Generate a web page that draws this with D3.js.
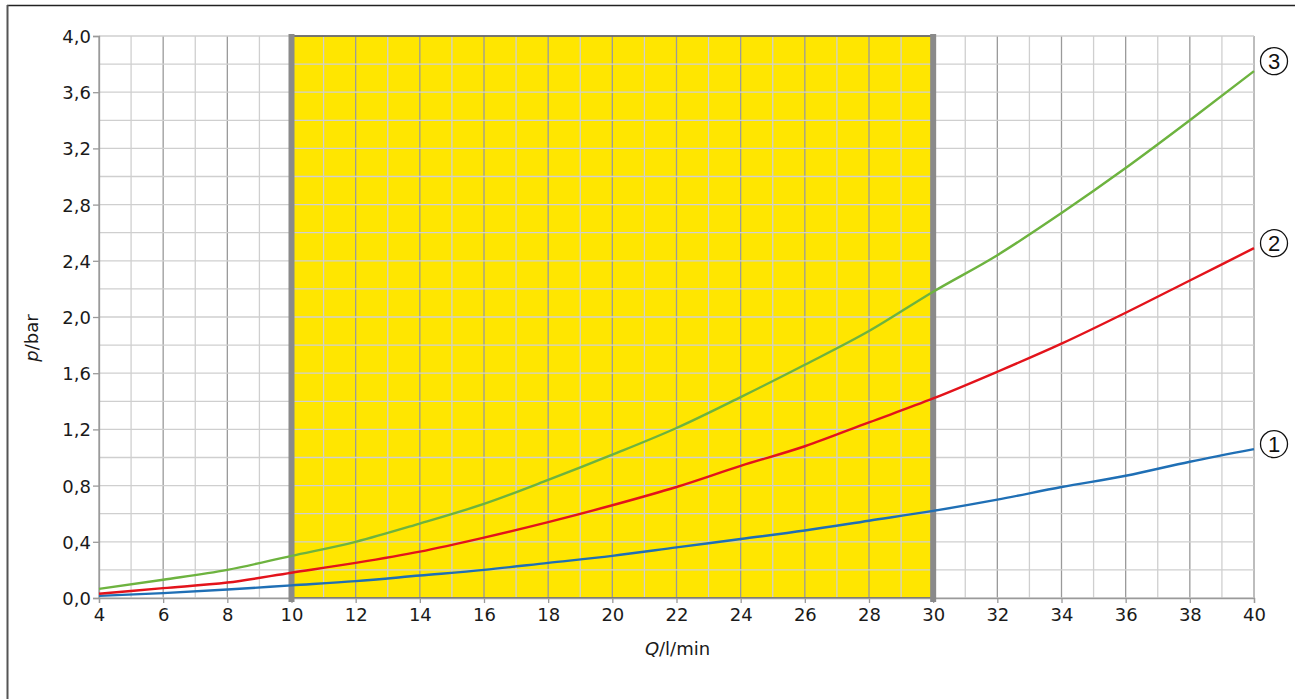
<!DOCTYPE html>
<html>
<head>
<meta charset="utf-8">
<script src="https://cdn.jsdelivr.net/npm/d3@7"></script>
<style>
  body { margin: 0; background: #fff; }
  svg { display: block; font-family: "DejaVu Sans", Verdana, sans-serif; }
</style>
</head>
<body>
<svg id="chart" width="1295" height="699"></svg>
<script>
// flow rate Q (l/min) and pressure drop p (bar)
const flow = [4, 6, 8, 10, 12, 14, 16, 18, 20, 22, 24, 26, 28, 30, 32, 34, 36, 38, 40];
const curve1 = [0.015, 0.035, 0.06, 0.09, 0.12, 0.16, 0.20, 0.25, 0.30, 0.36, 0.42, 0.48, 0.55, 0.62, 0.70, 0.79, 0.87, 0.97, 1.06];
const curve2 = [0.03, 0.07, 0.11, 0.18, 0.25, 0.33, 0.43, 0.54, 0.66, 0.79, 0.94, 1.08, 1.25, 1.42, 1.61, 1.81, 2.03, 2.26, 2.49];
const curve3 = [0.065, 0.13, 0.20, 0.30, 0.40, 0.53, 0.67, 0.84, 1.02, 1.21, 1.43, 1.66, 1.90, 2.18, 2.44, 2.74, 3.06, 3.40, 3.75];
const xTicks = [4, 6, 8, 10, 12, 14, 16, 18, 20, 22, 24, 26, 28, 30, 32, 34, 36, 38, 40];
const yTicks = [0, 0.4, 0.8, 1.2, 1.6, 2.0, 2.4, 2.8, 3.2, 3.6, 4.0];
const band = [10, 30];

const series = [
  {label: "1", values: curve1, color: "#1f6fb5"},
  {label: "2", values: curve2, color: "#e3131b"},
  {label: "3", values: curve3, color: "#6db33f"}
];

const svg = d3.select("#chart");

// outer frame (only top and left are visible in the picture)
svg.append("line").attr("x1", 7).attr("x2", 1295).attr("y1", 5.5).attr("y2", 5.5)
  .attr("stroke", "#222").attr("stroke-width", 1.5);
svg.append("line").attr("x1", 7.5).attr("x2", 7.5).attr("y1", 5).attr("y2", 699)
  .attr("stroke", "#555").attr("stroke-width", 2);

const x = d3.scaleLinear().domain([4, 40]).range([99, 1254]);
const y = d3.scaleLinear().domain([0, 4]).range([598, 36]);

const g = svg.append("g");

// yellow working range
g.append("rect")
  .attr("x", x(band[0])).attr("y", y(4))
  .attr("width", x(band[1]) - x(band[0])).attr("height", y(0) - y(4))
  .attr("fill", "#ffe600");

// grid: vertical every 1 l/min, darker on even values
d3.range(4, 41, 1).forEach(q => {
  g.append("line")
    .attr("x1", x(q)).attr("x2", x(q)).attr("y1", y(4)).attr("y2", y(0))
    .attr("stroke", q % 2 === 0 ? "#9a9a9a" : "#cfcfcf")
    .attr("stroke-width", 1.3);
});
// horizontal every 0.2 bar
d3.range(0, 21).forEach(i => {
  const v = i * 0.2;
  g.append("line")
    .attr("x1", x(4)).attr("x2", x(40)).attr("y1", y(v)).attr("y2", y(v))
    .attr("stroke", "#cfcfcf").attr("stroke-width", 1.3);
});

// dark edges of the band
g.append("line").attr("x1", x(band[0])).attr("x2", x(band[1]))
  .attr("y1", y(4)).attr("y2", y(4)).attr("stroke", "#555").attr("stroke-width", 1.5);
g.append("line").attr("x1", x(band[0])).attr("x2", x(band[1]))
  .attr("y1", y(0)).attr("y2", y(0)).attr("stroke", "#555").attr("stroke-width", 1.5);

// axes
const yAxis = d3.axisLeft(y).tickValues(yTicks).tickSize(6)
  .tickFormat(d => d3.format(".1f")(d).replace(".", ","));
const xAxis = d3.axisBottom(x).tickValues(xTicks).tickSize(5).tickFormat(d3.format("d"));

const ya = svg.append("g").attr("transform", `translate(${x(4)},0)`).call(yAxis);
const xa = svg.append("g").attr("transform", `translate(0,${y(0)})`).call(xAxis);
[ya, xa].forEach(a => {
  a.attr("font-size", null).attr("font-family", null);
  a.select(".domain").attr("stroke", "#9a9a9a").attr("stroke-width", 1.3);
  a.selectAll(".tick line").attr("stroke", "#9a9a9a").attr("stroke-width", 1.3);
  a.selectAll("text").attr("fill", "#1a1a1a").style("font-size", "18px")
    .style("font-family", "'DejaVu Sans', Verdana, sans-serif");
});
ya.selectAll("text").attr("x", -8).attr("dy", "0.36em");
xa.selectAll("text").attr("y", 10);

// thick grey band borders
band.forEach(q => {
  svg.append("rect")
    .attr("x", x(q) - 3).attr("y", y(4) - 2)
    .attr("width", 6).attr("height", y(0) - y(4) + 6)
    .attr("fill", "#8a8a8a");
});

// curves
const line = d3.line().x((d, i) => x(flow[i])).y(d => y(d)).curve(d3.curveMonotoneX);
series.forEach(s => {
  svg.append("path").datum(s.values)
    .attr("d", line)
    .attr("fill", "none").attr("stroke", s.color).attr("stroke-width", 2.4);
});

// circled curve numbers at the right end
series.forEach(s => {
  const last = s.values[s.values.length - 1];
  const cy = s.label === "3" ? y(last) - 10 : y(last) - 5;
  const lg = svg.append("g").attr("transform", `translate(${x(40) + 20},${cy})`);
  lg.append("circle").attr("r", 13.5).attr("fill", "none").attr("stroke", "#111").attr("stroke-width", 1.3);
  lg.append("text").attr("text-anchor", "middle").attr("dy", "0.36em")
    .style("font-family", "'Liberation Sans', Arial, sans-serif")
    .style("font-size", "22px").attr("fill", "#111").text(s.label);
});

// axis titles
const xt = svg.append("text").attr("x", (x(4) + x(40)) / 2 + 1).attr("y", 655)
  .attr("text-anchor", "middle").style("font-size", "18px").attr("fill", "#1a1a1a");
xt.append("tspan").style("font-style", "italic").text("Q");
xt.append("tspan").text("/l/min");

const yt = svg.append("text")
  .attr("transform", `translate(38,${y(1.85)}) rotate(-90)`)
  .attr("text-anchor", "middle").style("font-size", "18px").attr("fill", "#1a1a1a");
yt.append("tspan").style("font-style", "italic").text("p");
yt.append("tspan").text("/bar");
</script>
</body>
</html>
